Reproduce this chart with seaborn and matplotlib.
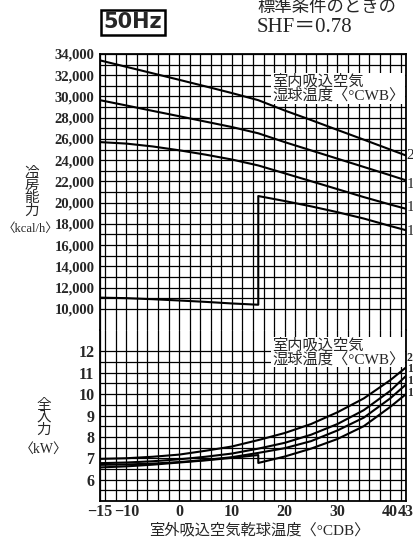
import matplotlib
matplotlib.use("Agg")
import matplotlib.pyplot as plt
import seaborn as sns
import numpy as np

# 室外吸込空気乾球温度 (°CDB)
temps = [-15, -10, -5, 0, 5, 10, 15, 20, 25, 30, 35, 40, 43]
temps_low = [-15, -10, -5, 0, 5, 10, 15]
temps_high = [15, 20, 25, 30, 35, 40, 43]

# 冷房能力 (kcal/h)
cap_a = [33400, 32790, 32180, 31570, 30950, 30320, 29650, 28680, 27780, 26850, 25930, 25000, 24440]
cap_b = [29650, 29150, 28640, 28140, 27630, 27120, 26530, 25700, 24920, 24140, 23360, 22580, 22100]
cap_c = [25700, 25560, 25290, 24930, 24520, 24060, 23500, 22760, 22020, 21270, 20520, 19820, 19420]
cap_d_low = [11050, 11000, 10900, 10780, 10650, 10500, 10380]
cap_d_high = [20620, 20150, 19650, 19100, 18500, 17800, 17400]

# 全入力 (kW)
pow_a = [6.97, 7.00, 7.07, 7.17, 7.35, 7.55, 7.85, 8.18, 8.60, 9.15, 9.80, 10.65, 11.25]
pow_b = [6.77, 6.80, 6.86, 6.95, 7.07, 7.22, 7.45, 7.72, 8.10, 8.60, 9.25, 10.15, 10.85]
pow_c = [6.69, 6.71, 6.75, 6.82, 6.92, 7.05, 7.25, 7.47, 7.80, 8.30, 8.90, 9.80, 10.45]
pow_d_low = [6.57, 6.62, 6.70, 6.80, 6.90, 7.02, 7.15]
pow_d_high = [6.78, 7.08, 7.45, 7.90, 8.50, 9.40, 10.00]

curve_labels = ["2", "1", "1", "1"]
cap_label_y = [24440, 21700, 19530, 17300]
pow_label_y = [11.68, 11.16, 10.62, 10.05]

x_ticks = [-15, -10, 0, 10, 20, 30, 40, 43]
x_ticklabels = ["\u221215", "\u221210", "0", "10", "20", "30", "40", "43"]
cap_ticks = list(range(10000, 34001, 2000))
pow_ticks = [6, 7, 8, 9, 10, 11, 12]

sns.set_style("white")
plt.rcParams['font.family'] = ['Liberation Serif', 'Noto Sans CJK JP']
plt.rcParams['axes.unicode_minus'] = True

fig = plt.figure(figsize=(4.14, 5.41), dpi=100)
W, H = 414, 541
ax_top = fig.add_axes([100 / W, 1 - 330 / H, 306 / W, 276 / H])
ax_bot = fig.add_axes([100 / W, 1 - 501 / H, 306 / W, 171 / H])

line_kw = dict(color="black", linewidth=1.5, estimator=None, sort=False, legend=False)

# 上段: 冷房能力
for ys in (cap_a, cap_b, cap_c):
    sns.lineplot(x=temps, y=ys, ax=ax_top, **line_kw)
sns.lineplot(x=temps_low + temps_high, y=cap_d_low + cap_d_high, ax=ax_top, **line_kw)

# 下段: 全入力
for ys in (pow_a, pow_b, pow_c):
    sns.lineplot(x=temps, y=ys, ax=ax_bot, **line_kw)
sns.lineplot(x=temps_low + temps_high, y=pow_d_low + pow_d_high, ax=ax_bot, **line_kw)

minor_x = np.arange(-14, 43, 2)
for ax in (ax_top, ax_bot):
    ax.set_xlim(-15, 43)
    ax.set_xticks(x_ticks)
    ax.set_xticks(minor_x, minor=True)
    ax.grid(True, which="both", color="black", linewidth=0.9)
    ax.set_axisbelow(True)
    for s in ax.spines.values():
        s.set_color("black")
        s.set_linewidth(1.3)
    ax.tick_params(axis="x", which="both", length=0)
    ax.tick_params(axis="y", which="major", length=3, width=1, color="black",
                   labelsize=10.5, pad=1)
    ax.tick_params(axis="y", which="minor", length=0)
    ax.set_xlabel("")
    ax.set_ylabel("")

ax_top.set_ylim(8000, 34000)
ax_top.set_yticks(cap_ticks)
ax_top.set_yticks(list(range(11000, 34000, 2000)), minor=True)
ax_top.set_yticklabels([f"{v:,}" for v in cap_ticks], fontweight="bold")
ax_top.tick_params(axis="x", labelbottom=False)
ax_top.spines["bottom"].set_visible(False)

ax_bot.set_ylim(5, 13)
ax_bot.set_yticks(pow_ticks)
ax_bot.set_yticks([5.5 + i for i in range(7)], minor=True)
ax_bot.set_yticklabels([str(v) for v in pow_ticks], fontweight="bold", fontsize=11.5)
ax_bot.set_xticklabels(x_ticklabels, fontsize=11.5, fontweight="bold")
ax_bot.tick_params(axis="x", pad=2)
ax_bot.spines["top"].set_visible(False)

# 右端の曲線ラベル
for lab, y in zip(curve_labels, cap_label_y):
    ax_top.text(43.15, y, lab, fontsize=11, va="center", ha="left", clip_on=False)
for lab, y in zip(curve_labels, pow_label_y):
    ax_bot.text(43.15, y, lab, fontsize=8.5, fontweight="bold",
                va="center", ha="left", clip_on=False)

# 注記
box = dict(facecolor="white", edgecolor="none", pad=0.5)
note = "室内吸込空気\n湿球温度〈°CWB〉"
ax_top.text(42.7, 30735, note, fontsize=11, ha="right", va="center",
            multialignment="left", linespacing=1.0, bbox=box, zorder=5)
ax_bot.text(42.7, 11.96, note, fontsize=11, ha="right", va="center",
            multialignment="left", linespacing=1.0, bbox=box, zorder=5)

# 軸タイトル
fig.text(32 / W, 1 - 192 / H, "冷\n房\n能\n力", fontsize=10.5, ha="center", va="center",
         linespacing=0.95)
fig.text(31 / W, 1 - 229 / H, "〈kcal/h〉", fontsize=9, ha="center", va="center")
fig.text(44 / W, 1 - 418 / H, "全\n入\n力", fontsize=10.5, ha="center", va="center",
         linespacing=0.95)
fig.text(44 / W, 1 - 449 / H, "〈kW〉", fontsize=10, ha="center", va="center")
fig.text(259 / W, 1 - 530 / H, "室外吸込空気乾球温度〈°CDB〉", fontsize=11,
         ha="center", va="center")

# 見出し
fig.text(133 / W, 1 - 22 / H, "50Hz", fontsize=15, fontweight="bold",
         family="DejaVu Sans", ha="center", va="center",
         bbox=dict(facecolor="white", edgecolor="black", linewidth=1.8, boxstyle="square,pad=0.12"))
fig.text(257 / W, 1 - 8 / H, "標準条件のときの", fontsize=12.5, ha="left", va="center")
fig.text(257 / W, 1 - 28 / H, "SHF＝0.78", fontsize=15, ha="left", va="center")

fig.savefig("out.png", dpi=100)
